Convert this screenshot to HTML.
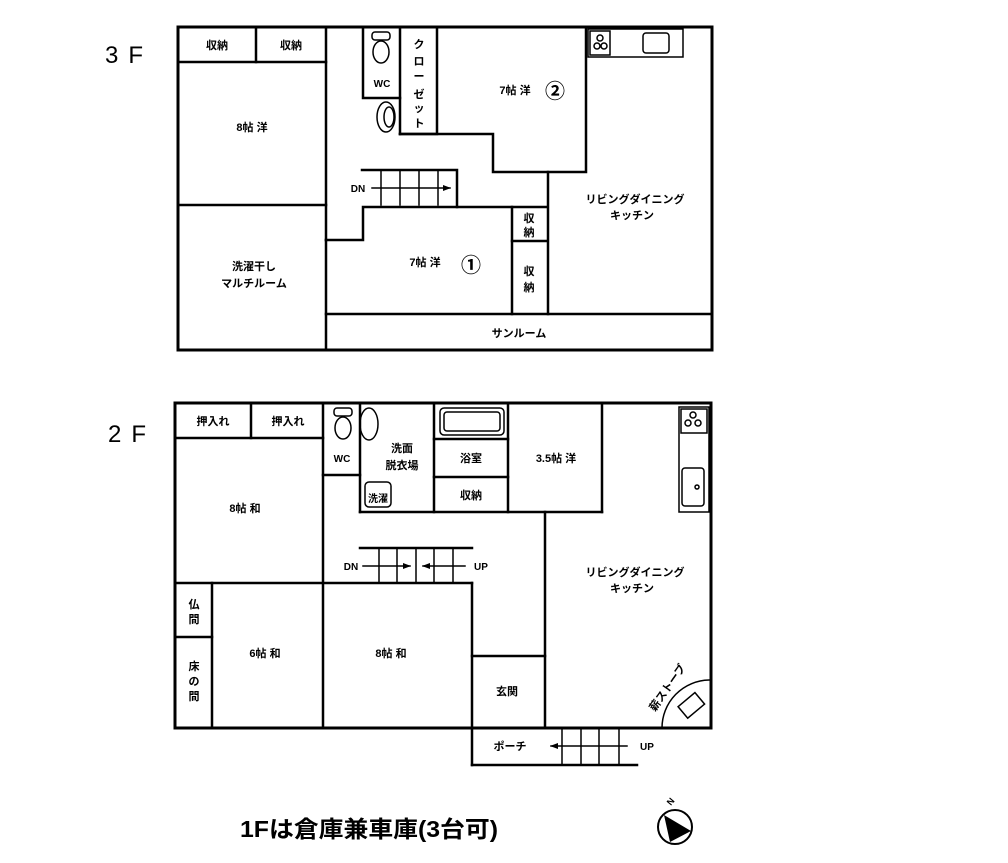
<!DOCTYPE html>
<html><head><meta charset="utf-8"><style>
html,body{margin:0;padding:0;background:#fff;}
svg{display:block;}
text{font-family:"Liberation Sans","Noto Sans CJK JP",sans-serif;font-weight:bold;fill:#000;}
</style></head><body>
<svg width="1008" height="863" viewBox="0 0 1008 863" xmlns="http://www.w3.org/2000/svg">
<defs>
<marker id="ah" markerWidth="8" markerHeight="8" refX="7" refY="4" orient="auto" markerUnits="userSpaceOnUse">
<path d="M0,1 L8,4 L0,7 Z" fill="#000"/></marker>
</defs>
<g stroke="#000" fill="none" stroke-linecap="square">
<rect x="178" y="27" width="534" height="323" stroke-width="3"/>
<g stroke-width="2.5">
<line x1="178" y1="62" x2="326" y2="62"/>
<line x1="256" y1="27" x2="256" y2="62"/>
<line x1="326" y1="27" x2="326" y2="240"/>
<line x1="178" y1="205" x2="326" y2="205"/>
<line x1="326" y1="240" x2="326" y2="350"/>
<polyline points="326,240 363,240 363,207 547,207"/>
<line x1="326" y1="314" x2="712" y2="314"/>
<polyline points="363,27 363,98 400,98"/>
<line x1="400" y1="27" x2="400" y2="134"/>
<polyline points="437,27 437,134 400,134"/>
<polyline points="400,134 493,134 493,172 586,172 586,27"/>
<line x1="548" y1="172" x2="548" y2="314"/>
<line x1="512" y1="207" x2="512" y2="314"/>
<line x1="512" y1="241" x2="547" y2="241"/>
<polyline points="362,170 457,170 457,207"/>
</g>
<g stroke-width="1.5">
<line x1="381" y1="171" x2="381" y2="205"/>
<line x1="400" y1="171" x2="400" y2="205"/>
<line x1="419" y1="171" x2="419" y2="205"/>
<line x1="438" y1="171" x2="438" y2="205"/>
<line x1="372" y1="188" x2="450" y2="188" marker-end="url(#ah)"/>
<rect x="372" y="32" width="18" height="8" rx="3"/>
<ellipse cx="381" cy="52" rx="8" ry="11"/>
<ellipse cx="386" cy="117" rx="9" ry="15"/>
<ellipse cx="389" cy="117" rx="5" ry="10"/>
<rect x="588" y="29" width="95" height="28"/>
<rect x="590" y="31" width="20" height="24"/>
<circle cx="597" cy="46" r="3"/><circle cx="604" cy="46" r="3"/><circle cx="600" cy="38" r="3"/>
<rect x="643" y="33" width="26" height="20" rx="3"/>
</g>
<polyline points="472,728 175,728 175,403 711,403 711,728 472,728" stroke-width="3"/>
<g stroke-width="2.5">
<line x1="175" y1="438" x2="323" y2="438"/>
<line x1="251" y1="403" x2="251" y2="438"/>
<line x1="323" y1="403" x2="323" y2="728"/>
<line x1="175" y1="583" x2="472" y2="583"/>
<line x1="212" y1="583" x2="212" y2="728"/>
<line x1="175" y1="637" x2="212" y2="637"/>
<line x1="472" y1="583" x2="472" y2="765"/>
<line x1="472" y1="656" x2="545" y2="656"/>
<line x1="545" y1="512" x2="545" y2="728"/>
<polyline points="323,475 360,475"/>
<line x1="360" y1="403" x2="360" y2="512"/>
<line x1="360" y1="512" x2="602" y2="512"/>
<line x1="434" y1="403" x2="434" y2="512"/>
<line x1="508" y1="403" x2="508" y2="512"/>
<line x1="602" y1="403" x2="602" y2="512"/>
<line x1="434" y1="477" x2="508" y2="477"/>
<line x1="434" y1="439" x2="508" y2="439"/>
<line x1="360" y1="548" x2="472" y2="548"/>
<polyline points="472,765 637,765"/>
</g>
<g stroke-width="1.5">
<line x1="379" y1="549" x2="379" y2="582"/>
<line x1="397" y1="549" x2="397" y2="582"/>
<line x1="416" y1="549" x2="416" y2="582"/>
<line x1="434" y1="549" x2="434" y2="582"/>
<line x1="453" y1="549" x2="453" y2="582"/>
<line x1="363" y1="566" x2="410" y2="566" marker-end="url(#ah)"/>
<line x1="465" y1="566" x2="423" y2="566" marker-end="url(#ah)"/>
<line x1="562" y1="729" x2="562" y2="764"/>
<line x1="581" y1="729" x2="581" y2="764"/>
<line x1="599" y1="729" x2="599" y2="764"/>
<line x1="619" y1="729" x2="619" y2="764"/>
<line x1="627" y1="746" x2="551" y2="746" marker-end="url(#ah)"/>
<rect x="334" y="408" width="18" height="8" rx="3"/>
<ellipse cx="343" cy="428" rx="8" ry="11"/>
<ellipse cx="369" cy="424" rx="9" ry="16"/>
<rect x="365" y="482" width="26" height="25" rx="4"/>
<rect x="440" y="408" width="64" height="27" rx="4"/>
<rect x="444" y="412" width="56" height="19" rx="3"/>
<rect x="679" y="407" width="30" height="105"/>
<rect x="681" y="409" width="26" height="24"/>
<circle cx="688" cy="423" r="3"/><circle cx="698" cy="423" r="3"/><circle cx="693" cy="415" r="3"/>
<rect x="682" y="468" width="22" height="38" rx="3"/>
<circle cx="697" cy="487" r="2"/>
<path d="M662,728 A48,48 0 0 1 709,680"/>
<rect x="680" y="698" width="22" height="15" transform="rotate(-40 691 705)"/>
<circle cx="675" cy="827" r="17" stroke-width="2"/>
</g>
<path d="M664,815 L691,831 L670,842 Z" fill="#000" stroke="none"/>
</g>
<g font-size="11">
<text x="105" y="63" font-size="24" style="font-weight:normal" letter-spacing="10">3F</text>
<text x="108" y="442" font-size="24" style="font-weight:normal" letter-spacing="10">2F</text>
<text x="240" y="837" font-size="23" textLength="258" lengthAdjust="spacingAndGlyphs">1Fは倉庫兼車庫(3台可)</text>
<text x="670" y="812" font-size="9" transform="rotate(-50 664 808)">N</text>

<text x="217" y="49" text-anchor="middle">収納</text>
<text x="291" y="49" text-anchor="middle">収納</text>
<text x="252" y="131" text-anchor="middle">8帖 洋</text>
<text x="254" y="270" text-anchor="middle">洗濯干し</text>
<text x="254" y="287" text-anchor="middle">マルチルーム</text>
<text x="382" y="87" text-anchor="middle" font-size="10">WC</text>
<text x="419" y="48" text-anchor="middle">ク</text>
<text x="419" y="65" text-anchor="middle">ロ</text>
<text x="419" y="80" text-anchor="middle">ー</text>
<text x="419" y="98" text-anchor="middle">ゼ</text>
<text x="419" y="112" text-anchor="middle">ッ</text>
<text x="419" y="127" text-anchor="middle">ト</text>
<text x="515" y="94" text-anchor="middle">7帖 洋</text>
<text x="555" y="98" text-anchor="middle" font-size="20">②</text>
<text x="425" y="266" text-anchor="middle">7帖 洋</text>
<text x="471" y="272" text-anchor="middle" font-size="20">①</text>
<text x="358" y="192" text-anchor="middle" font-size="10">DN</text>
<text x="529" y="222" text-anchor="middle">収</text>
<text x="529" y="236" text-anchor="middle">納</text>
<text x="529" y="275" text-anchor="middle">収</text>
<text x="529" y="291" text-anchor="middle">納</text>
<text x="635" y="203" text-anchor="middle">リビングダイニング</text>
<text x="632" y="219" text-anchor="middle">キッチン</text>
<text x="519" y="337" text-anchor="middle">サンルーム</text>

<text x="213" y="425" text-anchor="middle">押入れ</text>
<text x="288" y="425" text-anchor="middle">押入れ</text>
<text x="342" y="462" text-anchor="middle" font-size="10">WC</text>
<text x="402" y="452" text-anchor="middle">洗面</text>
<text x="402" y="469" text-anchor="middle">脱衣場</text>
<text x="378" y="502" text-anchor="middle" font-size="10">洗濯</text>
<text x="471" y="462" text-anchor="middle">浴室</text>
<text x="471" y="499" text-anchor="middle">収納</text>
<text x="556" y="462" text-anchor="middle">3.5帖 洋</text>
<text x="245" y="512" text-anchor="middle">8帖 和</text>
<text x="351" y="570" text-anchor="middle" font-size="10">DN</text>
<text x="481" y="570" text-anchor="middle" font-size="10">UP</text>
<text x="635" y="576" text-anchor="middle">リビングダイニング</text>
<text x="632" y="592" text-anchor="middle">キッチン</text>
<text x="194" y="608" text-anchor="middle">仏</text>
<text x="194" y="623" text-anchor="middle">間</text>
<text x="194" y="670" text-anchor="middle">床</text>
<text x="194" y="685" text-anchor="middle">の</text>
<text x="194" y="700" text-anchor="middle">間</text>
<text x="265" y="657" text-anchor="middle">6帖 和</text>
<text x="391" y="657" text-anchor="middle">8帖 和</text>
<text x="507" y="695" text-anchor="middle">玄関</text>
<text x="510" y="750" text-anchor="middle">ポーチ</text>
<text x="640" y="750" font-size="10">UP</text>
<text x="655" y="712" font-size="11" transform="rotate(-55 655 712)">薪ストーブ</text>
</g>
</svg>
</body></html>
